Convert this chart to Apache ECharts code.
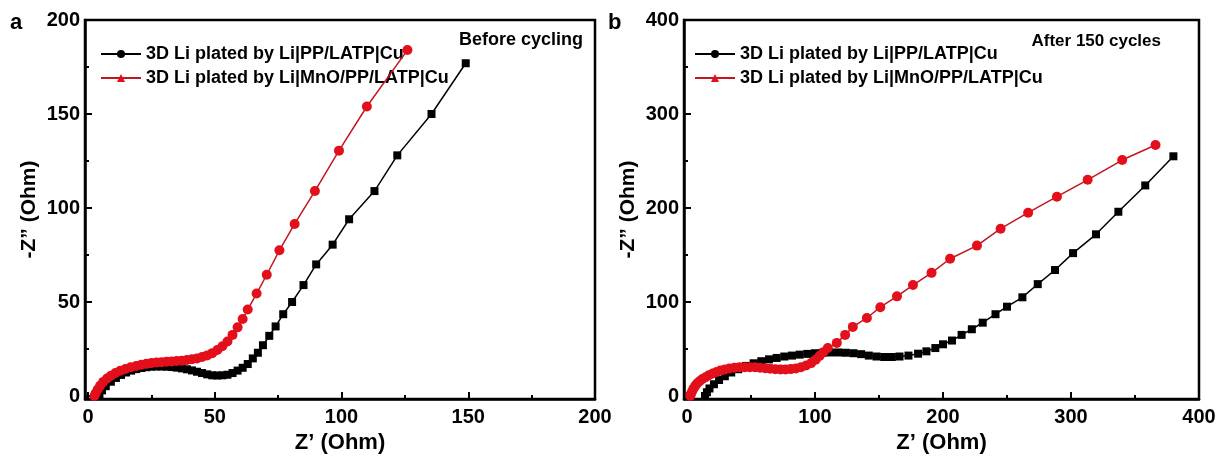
<!DOCTYPE html>
<html>
<head>
<meta charset="utf-8">
<script src="https://cdn.jsdelivr.net/npm/echarts@6/dist/echarts.min.js"></script>
<style>html,body{margin:0;padding:0;background:#fff}#c{width:1220px;height:463px}</style>
</head>
<body>
<div id="c"></div>
<script>
// ---- data (Z', -Z'') ----
const aBlack = [[4,0],[4.5,1],[5.5,3],[7,5.2],[9,7.6],[11,9.6],[13,11.2],[15,12.5],[17,13.5],[19,14.3],[21,14.9],[23,15.3],[25,15.6],[27,15.7],[29,15.7],[31,15.6],[33,15.4],[35,15.1],[37,14.7],[39,14.2],[41,13.6],[43,12.9],[45,12.2],[47,11.5],[49,11],[51,10.9],[53,11],[55,11.3],[57,12.2],[59,13.5],[61,15],[63,17],[65,20],[67,23],[69,27],[71.5,32],[74,37],[77,43.5],[80.5,50],[85,59],[90,70],[96.5,80.5],[103,94],[113,109],[122,128],[135.5,150],[149,177]];
const aRed = [[2.5,0],[3,1.5],[3.8,3.5],[4.8,5.5],[6,7.5],[7.5,9.3],[9,10.8],[10.8,12.2],[12.7,13.4],[14.7,14.4],[16.8,15.3],[19,16],[21,16.6],[23,17.1],[25,17.5],[27,17.8],[29,18],[31,18.2],[33,18.4],[35,18.6],[37,18.8],[39,19.1],[41,19.5],[43,20],[45,20.7],[47,21.6],[49,22.8],[51,24.5],[53,26.5],[55,29],[57,32.5],[59,36.5],[61,41],[63,46],[66.5,54.5],[70.5,64.5],[75.5,77.5],[81.5,91.5],[89.5,109],[99,130.5],[110,154],[126,184]];
const bBlack = [[14,0],[15.5,4],[17.5,8],[21,12.5],[25,17],[29.5,21],[34.5,25],[40,28.5],[46,32],[52,34.8],[58,37],[64,39],[70,40.5],[76,42],[82,43],[88,44],[94,44.8],[100,45.5],[106,46],[112,46.3],[118,46.3],[124,46],[130,45.5],[136,44.5],[142,43],[148,42],[154,41.5],[160,41.5],[166,42],[173,43],[180.5,45],[187,47.5],[194,51],[200,55],[207,59],[214.5,65],[222.5,71],[231,78],[241,87],[250,95],[262,105],[274,119],[287.5,134],[301.6,152],[319.5,172],[337,196],[358,224],[380,255]];
const bRed = [[2.5,0],[3,2],[4,5],[5,8],[6.5,11],[8,13.5],[10,16],[12,18],[14.5,20],[17,22],[20,24],[23,25.5],[26,27],[29.5,28.2],[33,29.2],[37,30],[41,30.5],[45,30.7],[49,30.7],[53,30.5],[57,30],[61,29.5],[65,29],[69,28.5],[73,28.3],[77,28.3],[81,28.6],[85,29.3],[89,30.5],[93,32.5],[97,35],[100.5,38.5],[103.5,42.5],[106.5,46.5],[110,51],[117,56.5],[123.5,65],[129.5,73.5],[140.5,83],[151,94.5],[164,106],[176.5,118],[191,131],[205.5,146],[226.5,160],[245,178],[266.5,195],[289,212],[313,230],[340,251],[366,267]];
const legendNames = ['3D Li plated by Li|PP/LATP|Cu', '3D Li plated by Li|MnO/PP/LATP|Cu'];
const aXMajor = [0,50,100,150,200], aXMinor = [25,75,125,175];
const aYMajor = [0,50,100,150,200], aYMinor = [25,75,125,175];
const bXMajor = [0,100,200,300,400], bXMinor = [50,150,250,350];
const bYMajor = [0,100,200,300,400], bYMinor = [50,150,250,350];
const xTitle = 'Z’ (Ohm)', yTitle = '-Z” (Ohm)';
const panelNotes = ['Before cycling', 'After 150 cycles'];

const FONT = 'Liberation Sans, Arial, sans-serif';
const BLACK = '#000000', RED_M = '#e30f1b', RED_L = '#c41520';

function axisPair(kind, grid, min, max, major, minor, title, gap) {
  const base = {type:'value', gridIndex:grid, min:min, max:max, splitLine:{show:false}, scale:false};
  const pos = kind === 'x' ? 'bottom' : 'left';
  const major_ = Object.assign({}, base, {
    position: pos,
    axisLine:{show:true, onZero:false, lineStyle:{color:BLACK, width:2.5}},
    axisTick:{show:true, inside:true, length:7, customValues:major, lineStyle:{color:BLACK, width:2}},
    axisLabel:{show:true, customValues:major, color:BLACK, fontFamily:FONT, fontWeight:'bold', fontSize:20, margin: kind==='x'?8:5},
    name:title, nameLocation:'middle', nameGap:gap,
    nameTextStyle:{color:BLACK, fontFamily:FONT, fontWeight:'bold', fontSize: kind==='x'?22:21}
  });
  const minor_ = Object.assign({}, base, {
    position: pos,
    axisLine:{show:false, onZero:false},
    axisTick:{show:true, inside:true, length:4, customValues:minor, lineStyle:{color:BLACK, width:2}},
    axisLabel:{show:false}
  });
  return [major_, minor_];
}

const chart = echarts.init(document.getElementById('c'), null, {renderer:'canvas'});
const legendText = {color:BLACK, fontFamily:FONT, fontWeight:'bold', fontSize:18};
const option = {
  animation:false,
  backgroundColor:'#fff',
  grid:[
    {left:85, top:20, width:510, height:379, show:true, borderColor:BLACK, borderWidth:2.5, backgroundColor:'transparent'},
    {left:684, top:20, width:515, height:379, show:true, borderColor:BLACK, borderWidth:2.5, backgroundColor:'transparent'}
  ],
  xAxis:[
    ...axisPair('x',0,-1.2,200,aXMajor,aXMinor,xTitle,32),
    ...axisPair('x',1,-2.4,400,bXMajor,bXMinor,xTitle,32)
  ],
  yAxis:[
    ...axisPair('y',0,-1.6,200,aYMajor,aYMinor,yTitle,45),
    ...axisPair('y',1,-3.2,400,bYMajor,bYMinor,yTitle,45)
  ],
  legend:[
    {left:100, top:45, padding:0, orient:'vertical', itemWidth:40, itemHeight:10, itemGap:6, data:legendNames, selectedMode:false, textStyle:legendText},
    {left:694, top:45, padding:0, orient:'vertical', itemWidth:40, itemHeight:10, itemGap:6, data:legendNames, selectedMode:false, textStyle:legendText}
  ],
  graphic:[
    {type:'text', left:10, top:12, style:{text:'a', font:'bold 22px '+FONT, fill:BLACK}},
    {type:'text', left:608, top:12, style:{text:'b', font:'bold 22px '+FONT, fill:BLACK}},
    {type:'text', right:1220-583, top:31, style:{text:panelNotes[0], font:'bold 18px '+FONT, fill:BLACK}},
    {type:'text', right:1220-1161, top:33, style:{text:panelNotes[1], font:'bold 17px '+FONT, fill:BLACK}}
  ],
  series:[
    {name:legendNames[0], type:'line', xAxisIndex:0, yAxisIndex:0, data:[], symbol:'circle', symbolSize:9,
     itemStyle:{color:BLACK}, lineStyle:{color:BLACK, width:1.5}},
    {name:legendNames[1], type:'line', xAxisIndex:0, yAxisIndex:0, data:[], symbol:'triangle', symbolSize:10,
     itemStyle:{color:RED_M}, lineStyle:{color:RED_L, width:1.5}},
    {name:'a-black', type:'line', xAxisIndex:0, yAxisIndex:0, data:aBlack, symbol:'rect', symbolSize:8,
     itemStyle:{color:BLACK}, lineStyle:{color:BLACK, width:1.5}, z:3},
    {name:'a-red', type:'line', xAxisIndex:0, yAxisIndex:0, data:aRed, symbol:'circle', symbolSize:10,
     itemStyle:{color:RED_M}, lineStyle:{color:RED_L, width:1.5}, z:4},
    {name:'b-black', type:'line', xAxisIndex:2, yAxisIndex:2, data:bBlack, symbol:'rect', symbolSize:8,
     itemStyle:{color:BLACK}, lineStyle:{color:BLACK, width:1.5}, z:3},
    {name:'b-red', type:'line', xAxisIndex:2, yAxisIndex:2, data:bRed, symbol:'circle', symbolSize:10,
     itemStyle:{color:RED_M}, lineStyle:{color:RED_L, width:1.5}, z:4}
  ]
};
chart.setOption(option);
</script>
</body>
</html>
